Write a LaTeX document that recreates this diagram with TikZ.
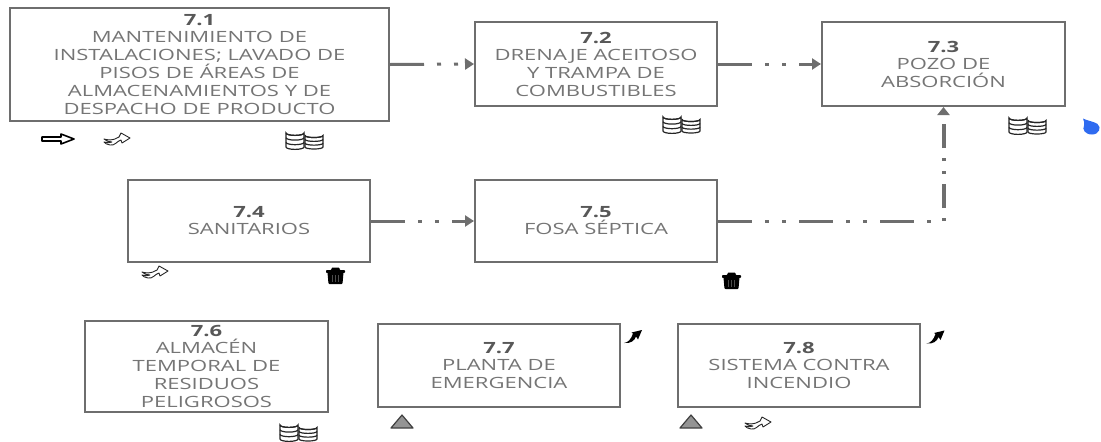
\documentclass[tikz,border=0pt]{standalone}
\usepackage{fontspec}
\setmainfont[FakeStretch=1.42]{Open Sans}
\usetikzlibrary{arrows.meta}
\definecolor{boxgray}{HTML}{6E6E6E}
\definecolor{txtgray}{HTML}{757575}
\definecolor{headgray}{HTML}{585858}
\definecolor{dropblue}{HTML}{2F6BF0}
\tikzset{
  procbox/.style={draw=boxgray,line width=2pt,fill=white,align=center,inner sep=0pt,
    text=txtgray,font=\fontsize{15.5}{18}\selectfont},
  flowline/.style={draw=boxgray,line width=3pt,
    -{Triangle[length=9pt,width=11pt,fill=boxgray]}},
  flow/.style={flowline,dash pattern=on 34pt off 13pt on 4pt off 13pt on 4pt off 13pt},
  flowh/.style={draw=boxgray,line width=3pt,dash pattern=on 34pt off 13pt on 4pt off 13pt on 4pt off 13pt},
  flowv/.style={draw=boxgray,line width=4pt,dash pattern=on 3pt off 10pt on 24pt off 10pt on 3pt off 10pt,
    -{Triangle[length=8pt,width=12pt,fill=boxgray]}},
  ico/.style={black!85,line width=1.2pt},
  pics/coinstack/.style={code={
      \draw[ico,fill=white] (-9,-7) -- (-9,7) arc[start angle=180,end angle=0,x radius=9,y radius=2.4]
        -- (9,-7) arc[start angle=0,end angle=180,x radius=9,y radius=2.4] -- cycle;
      \draw[ico] (-9,-7) arc[start angle=180,end angle=0,x radius=9,y radius=2.4];
      \draw[ico] (-9,-2.3) arc[start angle=180,end angle=0,x radius=9,y radius=2.4];
      \draw[ico] (-9,2.3) arc[start angle=180,end angle=0,x radius=9,y radius=2.4];
  }},
  pics/coins/.style={code={
    \pic[yscale=0.82] at (10,1.3) {coinstack};
    \pic at (-9,0) {coinstack};
  }},
  pics/wavy/.style={code={
    \draw[ico,line width=0.9pt,fill=white,line join=round] (2,-2) -- (4,-6) -- (13,-1) -- (5,4) -- (4,1)
      .. controls (0,2) and (-2,7) .. (-7,6) .. controls (-10,5.5) and (-12,4.5) .. (-13,3)
      .. controls (-10,4) and (-7,4) .. (-5,3) .. controls (-8,3) and (-11,2) .. (-13,0)
      .. controls (-9,1) and (-4,2) .. (2,-2) -- cycle;
  }},
  pics/whitearrow/.style={code={
    \draw[line width=1.6pt,black,fill=white,line join=round] (-16,-2) -- (3,-2) -- (3,-5) -- (16,0) -- (3,5) -- (3,2) -- (-16,2) -- cycle;
  }},
  pics/trash/.style={code={
    \fill[black,rounded corners=0.8pt] (-9.5,-6) -- (-4,-6) -- (-4,-8.5) -- (4,-8.5) -- (4,-6) -- (9.5,-6) -- (9.5,-3) -- (-9.5,-3) -- cycle;
    \fill[black,rounded corners=1pt] (-8,-3.5) -- (8,-3.5) -- (7,8) -- (-7,8) -- cycle;
    \foreach \tx in {-3,0,3}{\draw[black!70,line width=0.7pt] (\tx,-1) -- (\tx,6);}
  }},
  pics/grayup/.style={code={
    \draw[line width=1.2pt,black!75,fill=black!42,line join=round] (-11,6.5) -- (0,-6.5) -- (11,6.5) -- cycle;
  }},
  pics/curvearrow/.style={code={
    \fill[black] (-9,6.5) .. controls (-5,6) and (-2,3) .. (0,-3) -- (-1.5,-4) -- (9,-6.5) -- (5,3) -- (3,0)
      .. controls (2,4) and (-3,7.5) .. (-9,6.5) -- cycle;
  }},
  pics/drop/.style={code={
    \fill[dropblue] (-8,-8) .. controls (-3,-5.5) and (3,-5) .. (6.5,-2.5) .. controls (11,1) and (8,8) .. (1,8)
      .. controls (-6,8) and (-9,3) .. (-7,-1) .. controls (-6,-3) and (-7,-5) .. (-8,-8) -- cycle;
  }},
}
\begin{document}
\begin{tikzpicture}[x=1pt,y=-1pt]
\useasboundingbox (0,0) rectangle (1101,442);
\node[procbox,minimum width=379pt,minimum height=113pt] (n71) at (199.5,64.5) {\textbf{\textcolor{headgray}{7.1}}\\[-1pt]MANTENIMIENTO DE\\INSTALACIONES; LAVADO DE\\PISOS DE ÁREAS DE\\ALMACENAMIENTOS Y DE\\DESPACHO DE PRODUCTO};
\node[procbox,minimum width=242pt,minimum height=84pt] (n72) at (596,64) {\textbf{\textcolor{headgray}{7.2}}\\[-1pt]DRENAJE ACEITOSO\\Y TRAMPA DE\\COMBUSTIBLES};
\node[procbox,minimum width=243pt,minimum height=84pt] (n73) at (943.5,64) {\textbf{\textcolor{headgray}{7.3}}\\[-1pt]POZO DE\\ABSORCIÓN};
\node[procbox,minimum width=242pt,minimum height=82pt] (n74) at (249,221) {\raisebox{-1pt}{\textbf{\textcolor{headgray}{7.4}}}\\[-1pt]\raisebox{-1pt}{SANITARIOS}};
\node[procbox,minimum width=242pt,minimum height=82pt] (n75) at (596,221) {\raisebox{-1pt}{\textbf{\textcolor{headgray}{7.5}}}\\[-1pt]\raisebox{-1pt}{FOSA SÉPTICA}};
\node[procbox,minimum width=243pt,minimum height=91pt] (n76) at (206.5,366.5) {\textbf{\textcolor{headgray}{7.6}}\\[-1pt]ALMACÉN\\TEMPORAL DE\\RESIDUOS\\PELIGROSOS};
\node[procbox,minimum width=242pt,minimum height=83pt] (n77) at (499,365.5) {\textbf{\textcolor{headgray}{7.7}}\\[-1pt]PLANTA DE\\EMERGENCIA};
\node[procbox,minimum width=242pt,minimum height=83pt] (n78) at (799,365.5) {\textbf{\textcolor{headgray}{7.8}}\\[-1pt]SISTEMA CONTRA\\INCENDIO};
\coordinate (elbow) at (n73.south |- n75.east);
\draw[flow] (n71.east) -- (n72.west);
\draw[flow] (n72.east) -- (n73.west);
\draw[flow] (n74.east) -- (n75.west);
\draw[flowh] (n75.east) -- (elbow);
\draw[flowv] (elbow) -- (n73.south);
\pic at (58,139) {whitearrow};
\pic at (117,139) {wavy};
\pic at (304,140) {coins};
\pic at (681,124) {coins};
\pic at (1027,125) {coins};
\pic at (1091,126.5) {drop};
\pic at (155,272) {wavy};
\pic at (335.5,276) {trash};
\pic at (731.5,281) {trash};
\pic at (298,432) {coins};
\pic at (402,421.5) {grayup};
\pic at (691,421.5) {grayup};
\pic at (758,423) {wavy};
\pic at (633,336.5) {curvearrow};
\pic at (935.5,337) {curvearrow};
\end{tikzpicture}
\end{document}
